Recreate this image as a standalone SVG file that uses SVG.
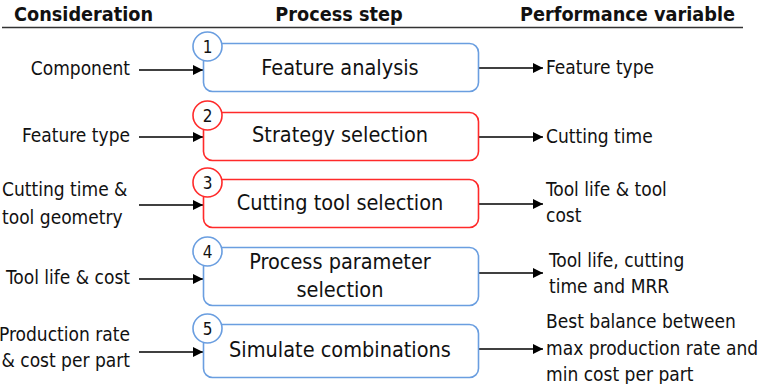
<svg xmlns="http://www.w3.org/2000/svg" width="763" height="384" viewBox="0 0 763 384">
<defs>
<marker id="ah" markerWidth="10" markerHeight="10" refX="10" refY="5" orient="auto" markerUnits="userSpaceOnUse"><path d="M0,0 L10,5 L0,10 Z" fill="#000"/></marker>
</defs>
<style>
text{font-family:"DejaVu Sans Condensed","DejaVu Sans",sans-serif;font-size:19px;fill:#111}
.h{font-weight:bold;font-size:19.7px}
.l{text-anchor:end}
.m{text-anchor:middle;font-size:21.5px}
.box{fill:#fff;stroke-width:1.6}
.b{stroke:#6a9ee0}
.r{stroke:#ff2a2a}
.num{font-size:17px;text-anchor:middle}
.c{stroke:#000;stroke-width:1.5;fill:none;marker-end:url(#ah)}
</style>
<rect width="763" height="384" fill="#fff"/>
<g id="header">
<text class="h" x="14" y="21">Consideration</text>
<text class="h" x="339" y="21" text-anchor="middle">Process step</text>
<text class="h" x="735" y="21" text-anchor="end">Performance variable</text>
<line x1="2" y1="27.5" x2="743" y2="27.5" stroke="#333" stroke-width="1.5"/>
</g>
<g id="connectors">
<line class="c" x1="139" y1="70" x2="203" y2="70"/>
<line class="c" x1="478" y1="68" x2="543" y2="68"/>
<line class="c" x1="139" y1="137" x2="203" y2="137"/>
<line class="c" x1="478" y1="137" x2="543" y2="137"/>
<line class="c" x1="139" y1="205" x2="203" y2="205"/>
<line class="c" x1="478" y1="204" x2="543" y2="204"/>
<line class="c" x1="139" y1="279" x2="203" y2="279"/>
<line class="c" x1="478" y1="273" x2="543" y2="273"/>
<line class="c" x1="139" y1="352" x2="203" y2="352"/>
<line class="c" x1="478" y1="349" x2="543" y2="349"/>
</g>
<g id="step1">
<rect class="box b" x="203.5" y="43.5" width="275" height="48" rx="9"/>
<circle class="box b" cx="207.5" cy="46.5" r="14.5"/>
<text class="num" x="207.5" y="52.5">1</text>
<text class="m" x="340" y="75">Feature analysis</text>
</g>
<g id="step2">
<rect class="box r" x="203.5" y="112.5" width="275" height="48" rx="9"/>
<circle class="box r" cx="207.5" cy="115.5" r="14.5"/>
<text class="num" x="207.5" y="121.5">2</text>
<text class="m" x="340" y="142">Strategy selection</text>
</g>
<g id="step3">
<rect class="box r" x="203.5" y="179.5" width="275" height="48" rx="9"/>
<circle class="box r" cx="207.5" cy="182.5" r="14.5"/>
<text class="num" x="207.5" y="188.5">3</text>
<text class="m" x="340" y="210">Cutting tool selection</text>
</g>
<g id="step4">
<rect class="box b" x="203.5" y="247.5" width="275" height="58" rx="9"/>
<circle class="box b" cx="207.5" cy="251.5" r="14.5"/>
<text class="num" x="207.5" y="257.5">4</text>
<text class="m" x="340" y="269">Process parameter</text>
<text class="m" x="340" y="297">selection</text>
</g>
<g id="step5">
<rect class="box b" x="203.5" y="324.5" width="275" height="53" rx="9"/>
<circle class="box b" cx="207.5" cy="328.5" r="14.5"/>
<text class="num" x="207.5" y="334.5">5</text>
<text class="m" x="340" y="357">Simulate combinations</text>
</g>
<g id="considerations">
<text class="l" x="130" y="75">Component</text>
<text class="l" x="130" y="142">Feature type</text>
<text x="2" y="196">Cutting time &amp;</text>
<text x="2" y="224">tool geometry</text>
<text class="l" x="130" y="284">Tool life &amp; cost</text>
<text class="l" x="130" y="341">Production rate</text>
<text class="l" x="130" y="367">&amp; cost per part</text>
</g>
<g id="variables">
<text x="546" y="74">Feature type</text>
<text x="546" y="143">Cutting time</text>
<text x="546" y="196">Tool life &amp; tool</text>
<text x="546" y="222">cost</text>
<text x="549" y="267">Tool life, cutting</text>
<text x="549" y="293">time and MRR</text>
<text x="546" y="328">Best balance between</text>
<text x="546" y="355">max production rate and</text>
<text x="546" y="381">min cost per part</text>
</g>
</svg>
